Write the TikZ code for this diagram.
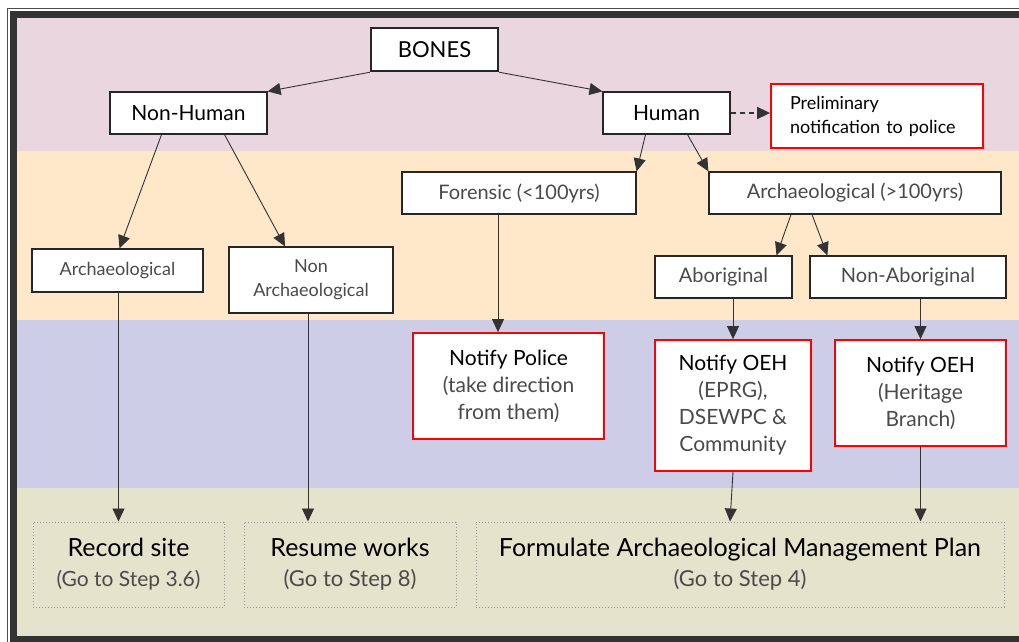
\documentclass[tikz,border=0pt]{standalone}
\usepackage{fontspec}
\setmainfont{Lato}
\usetikzlibrary{arrows.meta}

\definecolor{bandpink}{HTML}{E9D6DF}
\definecolor{bandpeach}{HTML}{FEE8C9}
\definecolor{bandblue}{HTML}{CDCDE7}
\definecolor{bandolive}{HTML}{E4E4CD}
\definecolor{subtext}{HTML}{4A4A4A}

\begin{document}
\begin{tikzpicture}[x=1pt, y=-1pt, >={Triangle[length=13pt,width=12pt]},
    box/.style = {draw=black!85, fill=white, line width=1.2pt, inner sep=0pt, align=center, text=subtext, font={\fontsize{20}{26}\selectfont}},
    redbox/.style = {box, draw=red, line width=1.8pt, text=subtext, font={\fontsize{21}{27}\selectfont}},
    goal/.style = {draw=black!40, dotted, line width=1pt, inner sep=0pt, align=center, minimum height=85pt, font={\fontsize{25}{30}\selectfont}},
    link/.style = {->, draw=black!80, line width=0.9pt}]

\useasboundingbox (0,0) rectangle (1019,641);

% bands
\fill[bandpink]  (17,18)  rectangle (1019,151);
\fill[bandpeach] (17,151) rectangle (1019,320);
\fill[bandblue]  (17,320) rectangle (1019,488);
\fill[bandolive] (17,488) rectangle (1019,636);

% frame
\draw[black!80, line width=7pt] (13.5,14.5) rectangle (1040,639.5);
\draw[black!70, line width=0.8pt] (7.5,8.5) rectangle (1040,650);

% nodes
\node[box, line width=2.5pt, text=black, minimum width=127pt, minimum height=43pt, font={\fontsize{22}{26}\selectfont}] (bones) at (434.5,49.5) {BONES};
\node[box, text=black, minimum width=157pt, minimum height=42pt, font={\fontsize{21}{26}\selectfont}] (nonhuman) at (188.5,113) {Non-Human};
\node[box, text=black, minimum width=127pt, minimum height=42pt, font={\fontsize{21}{26}\selectfont}] (human) at (666.5,113) {Human};
\node[box, draw=red, line width=1.8pt, text=black, align=left, text width=174pt, inner xsep=19pt, minimum height=64pt, font={\fontsize{18}{24}\selectfont}] (prelim) at (877,116) {Preliminary\\notification to police};

\node[box, minimum width=234pt, minimum height=42pt] (forensic) at (519,193) {Forensic (<100yrs)};
\node[box, minimum width=292pt, minimum height=42pt] (archaeo) at (855,193) {Archaeological (>100yrs)};
\node[box, minimum width=137pt, minimum height=42pt] (aborig) at (723.5,277) {Aboriginal};
\node[box, minimum width=196pt, minimum height=42pt] (nonaborig) at (908,277) {Non-Aboriginal};
\node[box, minimum width=171pt, minimum height=43pt, font={\fontsize{18}{24}\selectfont}] (arch) at (117.5,270.5) {Archaeological};
\node[box, minimum width=164pt, minimum height=66pt, font={\fontsize{18}{24}\selectfont}] (nonarch) at (311,280) {Non\\Archaeological};

\node[redbox, minimum width=191pt, minimum height=106pt] (police) at (508.5,386) {\textcolor{black}{Notify Police}\\(take direction\\from them)};
\node[redbox, minimum width=156pt, minimum height=131pt] (oehone) at (733,405.5) {\textcolor{black}{Notify OEH}\\(EPRG),\\DSEWPC \&\\Community};
\node[redbox, minimum width=171pt, minimum height=106pt] (oehtwo) at (920.5,393) {\textcolor{black}{Notify OEH}\\(Heritage\\Branch)};

\node[goal, minimum width=191pt] (record) at (128.5,564.5) {Record site\\{\fontsize{21}{28}\selectfont\color{subtext}(Go to Step 3.6)}};
\node[goal, minimum width=212pt] (resume) at (350,564.5) {Resume works\\{\fontsize{22}{29}\selectfont\color{subtext}(Go to Step 8)}};
\node[goal, minimum width=528pt] (plan) at (740,564.5) {Formulate Archaeological Management Plan\\{\fontsize{22}{29}\selectfont\color{subtext}(Go to Step 4)}};

% connectors
\draw[link] (bones.south west) -- (nonhuman.north east);
\draw[link] (bones.south east) -- (human.north west);
\draw[link, line width=1.6pt, dash pattern=on 5pt off 4pt] (human.east) -- (human.east -| prelim.west);
\draw[link] ([xshift=-21pt]human.south) -- (forensic.north east);
\draw[link] ([xshift=21pt]human.south) -- (archaeo.north west);
\draw[link] ([xshift=-64pt]archaeo.south) -- ([xshift=53pt]aborig.north);
\draw[link] ([xshift=-43pt]archaeo.south) -- ([xshift=18pt]nonaborig.north west);
\draw[link] ([xshift=-27pt]nonhuman.south) -- ([xshift=2pt]arch.north);
\draw[link] ([xshift=36pt]nonhuman.south) -- ([xshift=-26pt]nonarch.north);
\draw[link] ([xshift=-21pt]forensic.south) -- ([xshift=-21pt]forensic.south |- police.north);
\draw[link] (oehone.north |- aborig.south) -- (oehone.north);
\draw[link] (oehtwo.north |- nonaborig.south) -- (oehtwo.north);
\draw[link] ([xshift=1pt]arch.south) -- ([xshift=1pt]arch.south |- record.north);
\draw[link] ([xshift=-3pt]nonarch.south) -- ([xshift=-3pt]nonarch.south |- resume.north);
\draw[link] (oehone.south) -- ([xshift=-10pt]plan.north);
\draw[link] (oehtwo.south) -- (oehtwo.south |- plan.north);
\end{tikzpicture}
\end{document}
